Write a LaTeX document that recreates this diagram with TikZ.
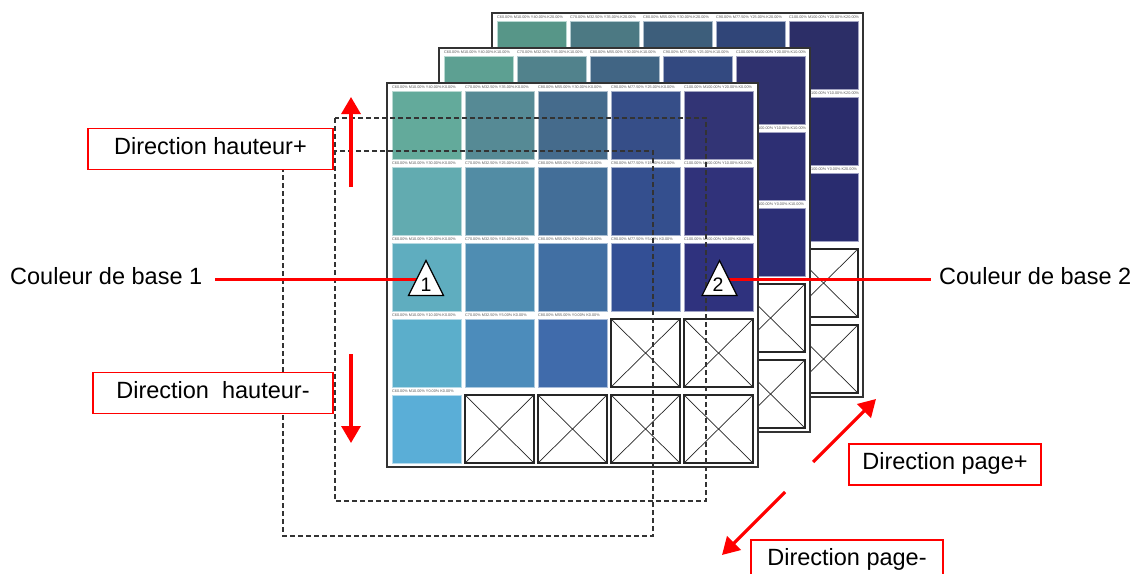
\documentclass[tikz,border=0pt]{standalone}
\usepackage{fontspec}
\setmainfont{Liberation Sans}
\usetikzlibrary{arrows.meta,shapes.geometric}
\definecolor{cell00}{RGB}{99,170,155}\definecolor{cell01}{RGB}{86,138,149}\definecolor{cell02}{RGB}{69,107,140}\definecolor{cell03}{RGB}{54,78,136}\definecolor{cell04}{RGB}{50,52,117}
\definecolor{cell10}{RGB}{98,171,176}\definecolor{cell11}{RGB}{82,140,164}\definecolor{cell12}{RGB}{67,110,152}\definecolor{cell13}{RGB}{52,79,142}\definecolor{cell14}{RGB}{48,50,122}
\definecolor{cell20}{RGB}{95,173,191}\definecolor{cell21}{RGB}{79,141,178}\definecolor{cell22}{RGB}{65,111,163}\definecolor{cell23}{RGB}{51,79,149}\definecolor{cell24}{RGB}{47,50,126}
\definecolor{cell30}{RGB}{91,174,203}\definecolor{cell31}{RGB}{76,140,187}\definecolor{cell32}{RGB}{64,107,171}
\definecolor{cell40}{RGB}{90,174,215}
\begin{document}
\begin{tikzpicture}[x=1pt,y=-1pt,
  sheet/.style={draw=black!80,line width=1.5pt,fill=white},
  emptybox/.style={draw=black!85,line width=1.3pt},
  cross/.style={draw=black!85,line width=0.7pt},
  swatchlabel/.style={font=\fontsize{3.8}{4}\selectfont,text=black!65,inner sep=0pt,anchor=base west},
  guide/.style={draw=black!80,line width=1.1pt,dash pattern=on 5pt off 3pt},
  redline/.style={draw=red,line width=3pt},
  redarrow/.style={draw=red,line width=3.2pt,-{Triangle[length=17pt,width=19pt]}},
  callout/.style={font=\fontsize{23.5}{28}\selectfont,inner sep=0pt},
  redbox/.style={callout,draw=red,line width=1.8pt,fill=white,text height=17pt,text depth=7pt,minimum height=41pt},
  marker/.style={draw=black,line width=1.2pt,fill=white,isosceles triangle,shape border rotate=90,isosceles triangle stretches,minimum width=35pt,minimum height=35pt,inner sep=0pt,anchor=apex},
  markernum/.style={font=\fontsize{19.5}{22}\selectfont,inner sep=0pt,anchor=base}]
\useasboundingbox (0,0) rectangle (1142,573);
\foreach \k/\dx/\dy/\tone in {20/105/70/88,10/52/35/94,0/0/0/100} {
\begin{scope}[shift={(387+\dx,83-\dy)}]
\draw[sheet] (0,0) rectangle (371,384);
\foreach \r in {0,...,4} { \foreach \c/\cv/\mv in {0/60/10.00,1/70/32.50,2/80/55.00,3/90/77.50,4/100/100.00} {
  \pgfmathtruncatemacro\yv{40-5*\c-10*\r}
  \ifnum\yv<0 \draw[emptybox] (5+73*\c,8+76*\r) rectangle ++(69,68); \draw[cross] (5+73*\c,8+76*\r) -- ++(69,68) (74+73*\c,8+76*\r) -- ++(-69,68);
  \else \draw[draw=cell\r\c!45!white,line width=0.6pt,fill=cell\r\c!\tone!black] (5+73*\c,8+76*\r) rectangle ++(69,68); \node[swatchlabel] (lab-\k-\r-\c) at (5+73*\c,5.5+76*\r) {C\cv.00\% M\mv\% Y\yv.00\% K\k.00\%};
  \fi } }
\end{scope} }
\draw[guide] (335,118) rectangle (706,501);
\draw[guide] (283,151) rectangle (653,536);
\node[callout,anchor=base west] (base1) at (10,284) {Couleur de base 1};
\node[callout,anchor=base west] (base2) at (939,284) {Couleur de base 2};
\coordinate (m1) at (426,279); \coordinate (m2) at (719.5,279);
\draw[redline] ([xshift=13pt]base1.east |- m1) -- (m1);
\draw[redline] (m2) -- ([xshift=-8pt]base2.west |- m2);
\node[marker] (mark1) at (426,259) {}; \node[markernum] (num1) at (426,291) {1};
\node[marker] (mark2) at (719.5,259) {}; \node[markernum] (num2) at (718,291) {2};
\node[redbox,minimum width=245pt] (hplus) at (210.5,149) {Direction hauteur+};
\node[redbox,minimum width=240pt] (hminus) at (213,393) {Direction\ \ hauteur-};
\node[redbox,minimum width=192pt] (pplus) at (945,464.5) {Direction page+};
\node[redbox,minimum width=192pt] (pminus) at (847,560.5) {Direction page-};
\coordinate (up0) at (351,187); \coordinate (up1) at (351,97);
\coordinate (dn0) at (351,354); \coordinate (dn1) at (351,443);
\coordinate (pp0) at (813,462); \coordinate (pp1) at (876,399);
\coordinate (pm0) at (785,492); \coordinate (pm1) at (722,555);
\draw[redarrow] (up0) -- (up1); \draw[redarrow] (dn0) -- (dn1);
\draw[redarrow] (pp0) -- (pp1); \draw[redarrow] (pm0) -- (pm1);
\end{tikzpicture}
\end{document}
